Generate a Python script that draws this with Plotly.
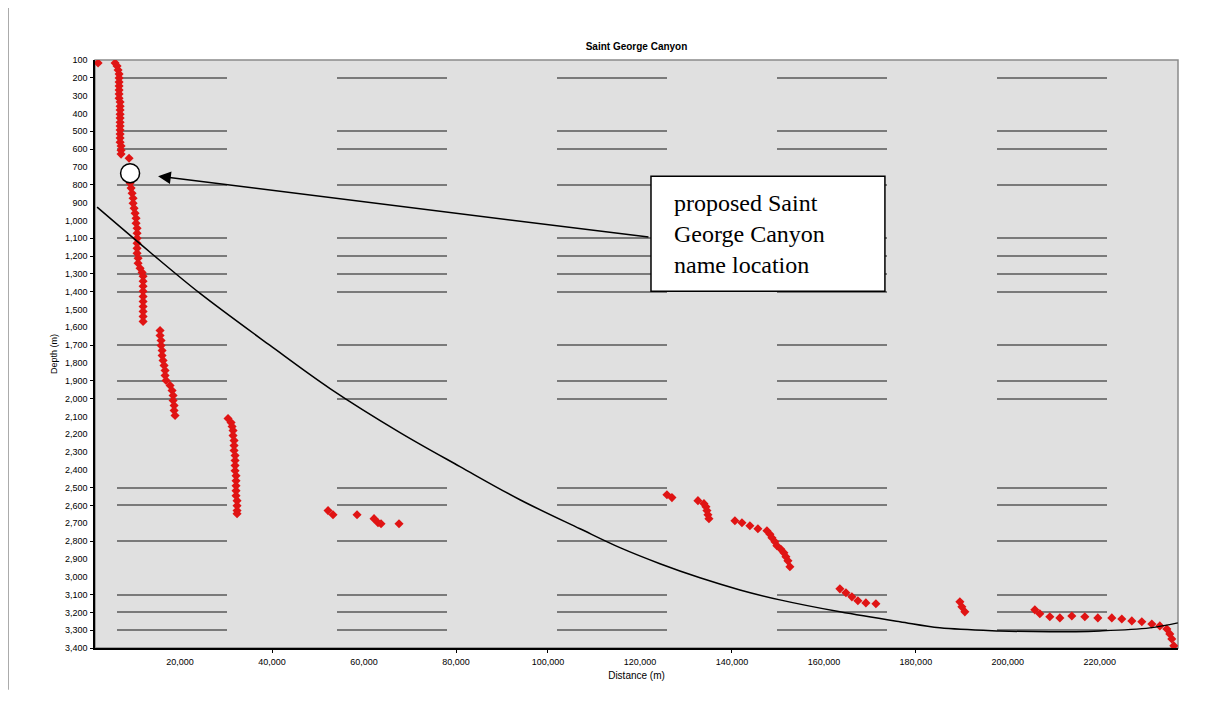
import plotly.graph_objects as go

# ---------------- data ----------------
profile_x = [2170,
             5870, 6300, 6520, 6740, 6740, 6740, 6740, 6740, 6740, 6740, 6960, 6960, 6960, 6960, 6960,
             6960, 6960, 6960, 6960, 6960, 6960, 7170, 7170, 7170, 8910,
             9130, 9350, 9570, 9780, 9780, 10000, 10220, 10430, 10430, 10650, 10650, 10650, 10650,
             10650, 10650, 10870, 10870, 11300, 11740, 11960, 11960, 11960, 11960, 11960, 11960,
             11960, 11960, 11960, 11960,
             15650, 15650, 15870, 15870, 16090, 16090, 16300, 16520, 16740, 16740, 16960, 17830,
             18260, 18480, 18480, 18700, 18700, 18910,
             30430, 31090, 31310, 31520, 31520, 31740, 31740, 31740, 31960, 31960, 31960, 31960,
             32170, 32170, 32170, 32170, 32170, 32390, 32390, 32390, 32390,
             52180, 53260, 58480, 62180, 63040, 63700, 67610,
             125870, 126960, 132610, 133920, 134350, 134570, 134780, 135000,
             140650, 142180, 143910, 145650, 147610, 148270, 148700, 149350, 149780, 150650, 151300,
             151740, 152180, 152610,
             163480, 164790, 166090, 167390, 169130, 171310,
             189570, 190000, 190650,
             205870, 206960, 209130, 211310, 213910, 216740, 219570, 222610,
             224780, 226960, 229130, 231310, 233050, 234570, 235220, 235650, 236090]
profile_depth = [117,
                 117, 134, 156, 179, 201, 224, 246, 269, 291, 314, 336, 359, 381, 404, 426,
                 449, 471, 493, 516, 538, 561, 583, 606, 628, 651,
                 791, 819, 848, 876, 904, 932, 960, 988, 1016, 1044, 1072, 1101, 1129,
                 1157, 1185, 1213, 1241, 1269, 1292, 1314, 1342, 1370, 1398, 1427, 1455,
                 1483, 1511, 1539, 1567,
                 1618, 1646, 1674, 1702, 1730, 1758, 1786, 1814, 1843, 1871, 1899, 1927,
                 1955, 1983, 2011, 2039, 2067, 2095,
                 2112, 2135, 2157, 2180, 2208, 2236, 2264, 2292, 2320, 2348, 2376, 2405,
                 2433, 2461, 2489, 2517, 2545, 2573, 2601, 2629, 2646,
                 2629, 2652, 2652, 2674, 2697, 2703, 2703,
                 2540, 2556, 2573, 2590, 2607, 2629, 2652, 2674,
                 2686, 2697, 2714, 2731, 2742, 2762, 2781, 2804, 2826, 2846, 2866,
                 2888, 2911, 2944,
                 3068, 3090, 3113, 3135, 3147, 3152,
                 3141, 3169, 3197,
                 3186, 3208, 3225, 3231, 3220, 3225, 3231, 3231,
                 3237, 3248, 3253, 3265, 3276, 3293, 3321, 3349, 3388]

curve_x = [1960, 13480, 24350, 39570, 52610, 67830, 80870, 93910, 106960, 115650, 124350,
           133050, 141750, 150430, 163480, 176520, 185220, 198260, 209130, 220000, 230870, 236960]
curve_depth = [926, 1179, 1410, 1702, 1944, 2191, 2382, 2568, 2731, 2837, 2927,
               3006, 3074, 3130, 3197, 3253, 3287, 3304, 3309, 3304, 3287, 3259]

proposed_x = [9130]
proposed_depth = [735]

x_tick_values = [20000, 40000, 60000, 80000, 100000, 120000, 140000, 160000, 180000, 200000, 220000]
x_tick_labels = ["20,000", "40,000", "60,000", "80,000", "100,000", "120,000", "140,000",
                 "160,000", "180,000", "200,000", "220,000"]
x_tick_marks = [40000, 80000, 100000, 140000, 180000]

y_tick_values = [100, 200, 300, 400, 500, 600, 700, 800, 900, 1000, 1100, 1200, 1300, 1400, 1500,
                 1600, 1700, 1800, 1900, 2000, 2100, 2200, 2300, 2400, 2500, 2600, 2700, 2800, 2900,
                 3000, 3100, 3200, 3300, 3400]
y_tick_labels = ["100", "200", "300", "400", "500", "600", "700", "800", "900", "1,000", "1,100",
                 "1,200", "1,300", "1,400", "1,500", "1,600", "1,700", "1,800", "1,900", "2,000",
                 "2,100", "2,200", "2,300", "2,400", "2,500", "2,600", "2,700", "2,800", "2,900",
                 "3,000", "3,100", "3,200", "3,300", "3,400"]
y_grid_values = [200, 500, 600, 800, 1100, 1200, 1300, 1400, 1700, 1900, 2000, 2500, 2600, 2800,
                 3100, 3200, 3300, 3400]

x_range = [1500, 237000]
y_range = [3400, 100]

note_text = "proposed Saint<br>George Canyon<br>name location"
note_box = dict(x0=122400, x1=173270, y0=752, y1=1398)
note_text_pos = (126960, 1075)
arrow_tail = (122180, 1095)
arrow_head = (15220, 752)

# ---------------- figure ----------------
fig = go.Figure()

# helper trace for the overlay axes (ticks/grid only at selected values)
fig.add_trace(go.Scatter(x=[None], y=[None], xaxis="x2", yaxis="y2", showlegend=False,
                         hoverinfo="skip", mode="markers"))

fig.add_trace(go.Scatter(x=profile_x, y=profile_depth, mode="markers",
                         marker=dict(symbol="diamond", size=7, color="#e01414",
                                     line=dict(width=0)),
                         showlegend=False))
fig.add_trace(go.Scatter(x=curve_x, y=curve_depth, mode="lines",
                         line=dict(color="black", width=1.5, shape="spline"),
                         showlegend=False))
fig.add_trace(go.Scatter(x=proposed_x, y=proposed_depth, mode="markers",
                         marker=dict(symbol="circle", size=19, color="white",
                                     line=dict(color="black", width=1.5)),
                         showlegend=False))

tick_font = dict(family="Liberation Sans, Arial, sans-serif", size=9, color="black")

fig.update_layout(
    width=1196, height=693,
    margin=dict(l=87, r=26, t=52, b=53),
    paper_bgcolor="white",
    plot_bgcolor="#e0e0e0",
    title=dict(text="<b>Saint George Canyon</b>", x=0.5, xref="paper", y=1, yref="paper",
               yanchor="bottom", pad=dict(b=10),
               font=dict(family="Liberation Sans, Arial, sans-serif", size=10, color="black")),
    xaxis=dict(range=x_range, tickvals=x_tick_values, ticktext=x_tick_labels,
               ticks="outside", ticklen=4, tickcolor="rgba(0,0,0,0)",
               showgrid=False, zeroline=False, showline=True, linecolor="black", linewidth=1.5,
               tickfont=tick_font,
               title=dict(text="Distance (m)", standoff=6,
                          font=dict(family="Liberation Sans, Arial, sans-serif", size=10,
                                    color="black"))),
    yaxis=dict(range=y_range, tickvals=y_tick_values, ticktext=y_tick_labels,
               ticks="outside", ticklen=4, tickcolor="rgba(0,0,0,0)",
               showgrid=False, zeroline=False, showline=True, linecolor="black", linewidth=1.5,
               tickfont=tick_font,
               title=dict(text="Depth (m)", standoff=6,
                          font=dict(family="Liberation Sans, Arial, sans-serif", size=9,
                                    color="black"))),
    xaxis2=dict(range=x_range, overlaying="x", anchor="y", side="bottom",
                tickvals=x_tick_marks, ticks="outside", ticklen=4, tickcolor="black",
                tickwidth=1.2, showticklabels=False, showgrid=False, zeroline=False,
                showline=False),
    yaxis2=dict(range=y_range, overlaying="y", anchor="x", side="left",
                tickvals=y_grid_values, ticks="outside", ticklen=4, tickcolor="black",
                tickwidth=1.2, showticklabels=False, zeroline=False, showline=False,
                showgrid=True, gridcolor="#7a7a7a", gridwidth=1.5,
                griddash="0px,22px,110px,88px"),
    shapes=[
        dict(type="rect", xref="paper", yref="paper", x0=0, x1=1, y0=0, y1=1,
             line=dict(color="#8a8a8a", width=1.5), layer="below"),
        dict(type="line", xref="paper", yref="paper", x0=-0.0799, x1=-0.0799,
             y0=-0.071, y1=1.102, line=dict(color="#a8a8a8", width=1)),
        dict(type="rect", xref="x", yref="y", x0=note_box["x0"], x1=note_box["x1"],
             y0=note_box["y0"], y1=note_box["y1"], fillcolor="white",
             line=dict(color="black", width=1.5), layer="above"),
    ],
    annotations=[
        dict(x=note_text_pos[0], y=note_text_pos[1], xref="x", yref="y",
             text=note_text, showarrow=False, align="left", xanchor="left", yanchor="middle",
             font=dict(family="Liberation Serif, Times New Roman, serif", size=24,
                       color="black")),
        dict(x=arrow_head[0], y=arrow_head[1], xref="x", yref="y",
             ax=arrow_tail[0], ay=arrow_tail[1], axref="x", ayref="y",
             text="", showarrow=True, arrowhead=2, arrowsize=1.7, arrowwidth=1.5,
             arrowcolor="black", standoff=0),
    ],
)

fig.write_html("out.html")
